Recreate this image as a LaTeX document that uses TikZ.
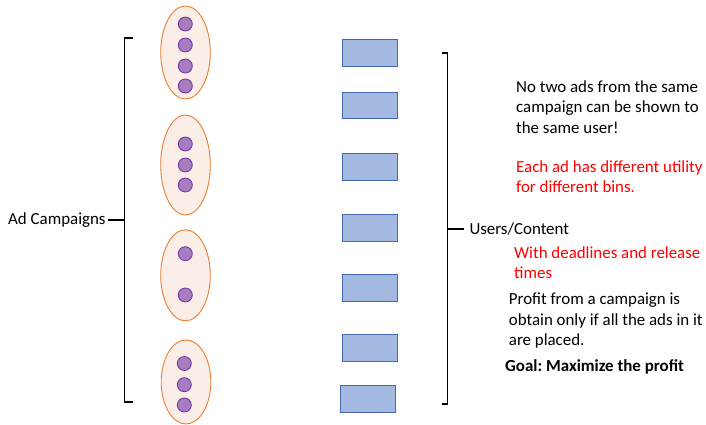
\documentclass[tikz,border=0pt]{standalone}
\usepackage{fontspec}
\setmainfont{Carlito}
\usetikzlibrary{shapes.geometric}
\frenchspacing
\definecolor{campfill}{RGB}{251,238,230}
\definecolor{campdraw}{RGB}{237,125,49}
\definecolor{adfill}{RGB}{167,125,194}
\definecolor{addraw}{RGB}{112,48,160}
\definecolor{binfill}{RGB}{164,185,225}
\definecolor{bindraw}{RGB}{68,102,170}
\definecolor{alert}{RGB}{255,0,0}
\tikzset{
  campaign/.style={ellipse, draw=campdraw, fill=campfill, line width=0.9pt,
    minimum width=49.6pt, inner sep=0pt},
  ad/.style={circle, draw=addraw, fill=adfill, line width=0.8pt,
    minimum size=14pt, inner sep=0pt},
  bin/.style={rectangle, draw=bindraw, fill=binfill, line width=1.1pt,
    minimum width=54.6pt, minimum height=26.8pt, inner sep=0pt},
  brace/.style={line width=1.8pt, black},
  label/.style={font=\fontsize{16.9}{20.5}\selectfont, inner sep=0pt, align=left}
}
\begin{document}
\begin{tikzpicture}[x=1pt, y=-1pt]
\useasboundingbox (0,0) rectangle (706,425);

% campaigns and their ads
\node[campaign, minimum height=93pt] (c1) at (185.5,52.5) {};
\node[campaign, minimum height=100pt] (c2) at (185.5,165) {};
\node[campaign, minimum height=91pt] (c3) at (185.5,275.3) {};
\node[campaign, minimum height=84pt] (c4) at (186,382) {};

\foreach \y [count=\i] in {24,45,66,86}
  \node[ad] (a1\i) at (185.3,\y) {};
\foreach \y [count=\i] in {144,165,185}
  \node[ad] (a2\i) at (185.3,\y) {};
\foreach \y [count=\i] in {253.7,295}
  \node[ad] (a3\i) at (185.3,\y) {};
\foreach \y [count=\i] in {363.5,384.7,405}
  \node[ad] (a4\i) at (184.3,\y) {};

% bins (users / content)
\node[bin] (b1) at (370,52.8) {};
\node[bin] (b2) at (370,105.5) {};
\node[bin] (b3) at (370,166.7) {};
\node[bin] (b4) at (370,228) {};
\node[bin] (b5) at (370,288) {};
\node[bin] (b6) at (370,347.8) {};
\node[bin] (b7) at (368,398.7) {};

% left bracket
\coordinate (lt) at (132.5,38);
\coordinate (lb) at (132.5,402);
\coordinate (lm) at (124.5,220);
\node[label, anchor=west] (adc) at (8,220) {Ad Campaigns};
\draw[brace] (lt) -| (lm |- lb) -- (lb);
\draw[brace] (adc.east) ++(2,0) coordinate (adce) -- (lm);

% right bracket
\coordinate (rt) at (441.5,53);
\coordinate (rb) at (441.5,404);
\coordinate (rm) at (447.5,229.3);
\node[label, anchor=west] (usr) at (469.3,229.3) {Users/Content};
\draw[brace] (rt) -| (rm |- rb) -- (rb);
\draw[brace] (rm) -- ([xshift=-5pt]usr.west);

% notes
\node[label, anchor=north west] (n1) at (516,80.5)
  {No two ads from the same\\campaign can be shown to\\the same user!};
\node[label, anchor=north west, text=alert] (n2) at (516,160.5)
  {Each ad has different utility\\for different bins.};
\node[label, anchor=north west, text=alert] (n3) at (514,246.5)
  {With deadlines and release\\times};
\node[label, anchor=north west] (n4) at (508.7,293)
  {Profit from a campaign is\\obtain only if all the ads in it\\are placed.};
\node[label, anchor=north west, font=\fontsize{16.9}{20.5}\selectfont\bfseries] (n5) at (505,359)
  {Goal: Maximize the profit};
\end{tikzpicture}
\end{document}
